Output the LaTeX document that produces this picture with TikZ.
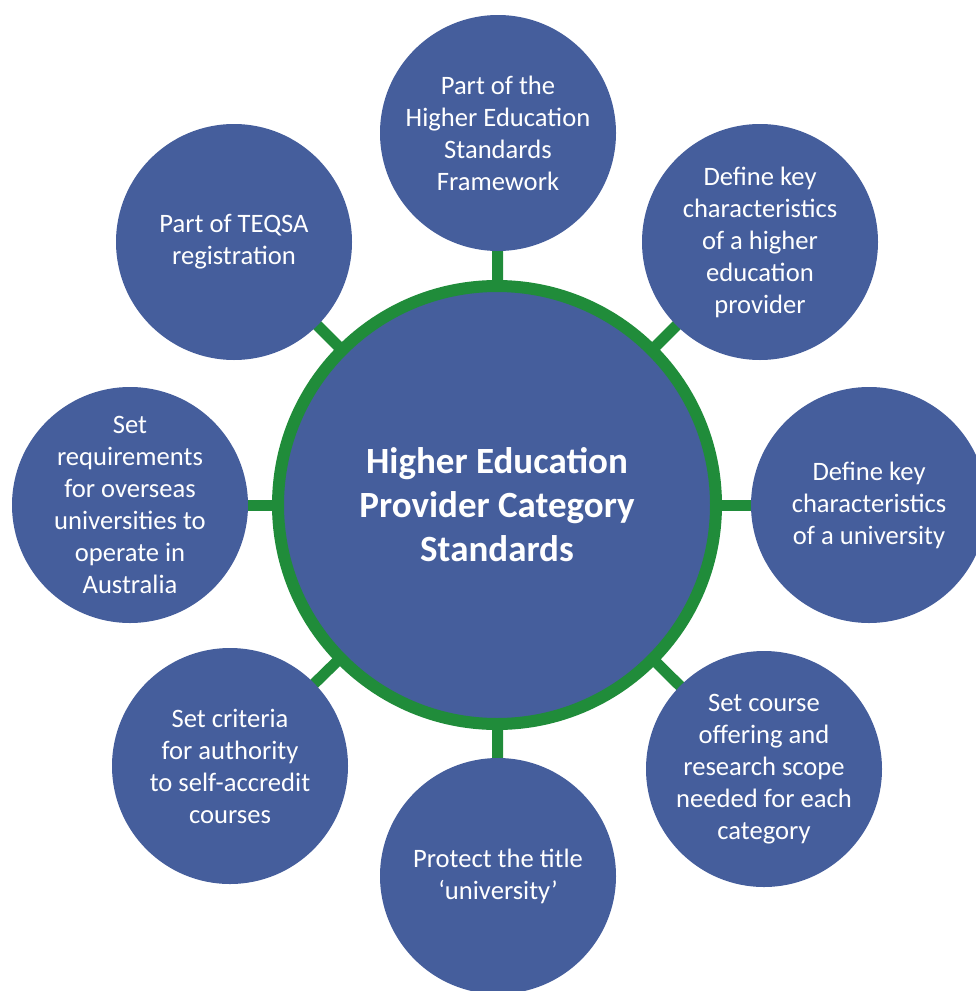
\documentclass[tikz,border=0pt]{standalone}
\usepackage{fontspec}
\setmainfont{Carlito}
\usetikzlibrary{backgrounds}
\definecolor{discblue}{RGB}{69,94,156}
\definecolor{ringgreen}{RGB}{32,140,58}
\begin{document}
\begin{tikzpicture}[x=1pt, y=-1pt,
  topic/.style={circle, fill=discblue, text=white, minimum size=236pt, inner sep=0pt, align=center, font=\fontsize{26.6}{32}\selectfont},
  hub/.style={circle, fill=discblue, draw=ringgreen, line width=12pt, minimum size=438pt, inner sep=0pt, text=white, align=center, font=\bfseries\fontsize{37}{44}\selectfont},
  link/.style={draw=ringgreen, line width=11pt}]
\useasboundingbox (0,0) rectangle (976,991);
\node [hub] (hub) at (497,505) {Higher Education\\Provider Category\\Standards};
\node [topic] (top) at (498,133) {Part of the\\Higher Education\\Standards\\Framework};
\node [topic] (topright) at (760,242) {Define key\\characteristics\\of a higher\\education\\provider};
\node [topic] (right) at (869,505) {Define key\\characteristics\\of a university};
\node [topic] (botright) at (764,769) {Set course\\offering and\\research scope\\needed for each\\category};
\node [topic] (bottom) at (498,876) {Protect the title\\‘university’};
\node [topic] (botleft) at (230,766) {Set criteria\\for authority\\to self-accredit\\courses};
\node [topic] (left) at (130,505) {Set\\requirements\\for overseas\\universities to\\operate in\\Australia};
\node [topic] (topleft) at (234,242) {Part of TEQSA\\registration};
\begin{scope}[on background layer]
  \draw [link] (hub.center) -- (top.center);
  \draw [link] (hub.center) -- (topright.center);
  \draw [link] (hub.center) -- (right.center);
  \draw [link] (hub.center) -- (botright.center);
  \draw [link] (hub.center) -- (bottom.center);
  \draw [link] (hub.center) -- (botleft.center);
  \draw [link] (hub.center) -- (left.center);
  \draw [link] (hub.center) -- (topleft.center);
\end{scope}
\end{tikzpicture}
\end{document}
